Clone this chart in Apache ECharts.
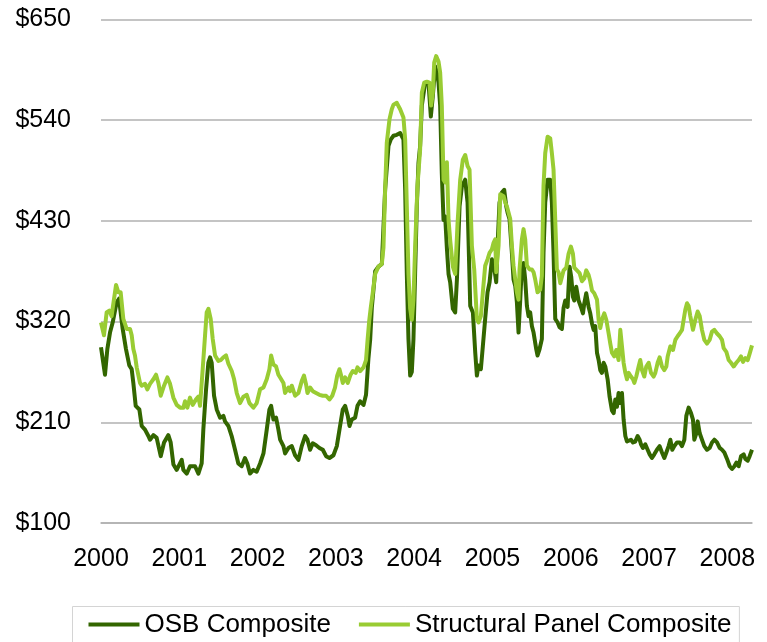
<!DOCTYPE html>
<html>
<head>
<meta charset="utf-8">
<title>OSB and Structural Panel Composite Prices</title>
<script src="https://cdn.jsdelivr.net/npm/echarts@6/dist/echarts.min.js"></script>
<style>
  html, body { margin: 0; padding: 0; background: #ffffff; }
  #chart { width: 767px; height: 642px; }
</style>
</head>
<body>
<div id="chart"></div>
<script>
// Weekly composite prices, $ per MSF, sampled as [decimal year, price]
const seriesNames = ['OSB Composite', 'Structural Panel Composite'];

const osbPrices = [
  [2000.000,292],[2000.051,262],[2000.081,290],[2000.115,308],[2000.149,319],[2000.200,341],[2000.230,345],[2000.277,312],
  [2000.319,290],[2000.362,272],[2000.392,268],[2000.413,253],[2000.443,228],[2000.490,224],[2000.520,206],[2000.562,202],
  [2000.605,195],[2000.626,191],[2000.669,196],[2000.711,193],[2000.763,173],[2000.805,188],[2000.860,196],[2000.890,188],
  [2000.925,164],[2000.967,158],
  [2001.031,169],[2001.052,158],[2001.095,154],[2001.137,162],[2001.201,162],[2001.244,154],[2001.286,165],[2001.307,202],
  [2001.342,246],[2001.371,275],[2001.393,281],[2001.414,275],[2001.444,239],[2001.478,224],[2001.521,215],[2001.563,217],
  [2001.584,211],[2001.627,206],[2001.669,195],[2001.712,180],[2001.754,165],[2001.797,162],[2001.839,171],[2001.869,165],
  [2001.903,154],[2001.946,158],[2001.988,156],
  [2002.032,165],[2002.075,176],[2002.117,202],[2002.151,224],[2002.173,228],[2002.203,213],[2002.236,215],[2002.266,202],
  [2002.288,191],[2002.330,184],[2002.351,176],[2002.394,182],[2002.437,184],[2002.479,174],[2002.522,169],[2002.564,184],
  [2002.607,195],[2002.637,191],[2002.671,180],[2002.705,187],[2002.747,185],[2002.790,182],[2002.833,180],[2002.875,173],
  [2002.918,171],[2002.969,174],
  [2003.012,184],[2003.046,202],[2003.088,224],[2003.118,228],[2003.152,217],[2003.174,206],[2003.203,213],[2003.246,215],
  [2003.276,228],[2003.310,233],[2003.353,229],[2003.385,240],[2003.416,280],[2003.438,300],[2003.459,335],[2003.502,375],
  [2003.544,380],[2003.587,383],[2003.629,464],[2003.672,512],[2003.702,519],[2003.736,523],[2003.778,524],[2003.821,526],
  [2003.863,519],[2003.885,464],[2003.906,372],[2003.927,301],[2003.949,261],[2003.970,265],[2003.991,301],
  [2004.012,372],[2004.034,446],[2004.055,493],[2004.076,512],[2004.098,556],[2004.140,581],[2004.183,581],[2004.213,544],
  [2004.238,566],[2004.268,599],[2004.290,592],[2004.311,581],[2004.332,556],[2004.353,482],[2004.375,431],[2004.396,435],
  [2004.418,400],[2004.439,372],[2004.460,363],[2004.494,334],[2004.524,330],[2004.546,366],[2004.580,446],[2004.610,468],
  [2004.652,475],[2004.682,450],[2004.716,337],[2004.750,330],[2004.780,286],[2004.801,261],[2004.822,272],[2004.852,268],
  [2004.877,293],[2004.907,323],[2004.937,352],[2004.963,363],[2004.993,388],
  [2005.014,384],[2005.048,363],[2005.065,403],[2005.090,450],[2005.120,461],[2005.150,464],[2005.176,446],[2005.193,439],
  [2005.218,432],[2005.248,395],[2005.269,366],[2005.291,359],[2005.312,341],[2005.333,308],[2005.355,344],[2005.376,381],
  [2005.397,384],[2005.418,366],[2005.440,337],[2005.461,326],[2005.482,330],[2005.504,315],[2005.525,308],[2005.559,290],
  [2005.576,283],[2005.602,290],[2005.631,301],[2005.652,395],[2005.674,450],[2005.704,475],[2005.738,475],[2005.759,450],
  [2005.780,395],[2005.802,323],[2005.832,319],[2005.857,314],[2005.887,312],[2005.908,335],[2005.930,343],[2005.960,336],
  [2005.985,380],
  [2006.006,369],[2006.028,347],[2006.045,343],[2006.070,358],[2006.100,343],[2006.130,336],[2006.156,329],[2006.173,340],
  [2006.198,351],[2006.228,336],[2006.249,329],[2006.271,318],[2006.292,311],[2006.313,315],[2006.335,286],[2006.356,278],
  [2006.377,267],[2006.398,264],[2006.420,275],[2006.441,271],[2006.471,257],[2006.496,238],[2006.526,223],[2006.548,220],
  [2006.569,235],[2006.590,227],[2006.611,242],[2006.633,231],[2006.654,242],[2006.675,213],[2006.697,195],[2006.718,189],
  [2006.739,191],[2006.769,191],[2006.795,188],[2006.824,189],[2006.854,195],[2006.880,191],[2006.897,186],[2006.922,182],
  [2006.952,186],[2006.982,180],
  [2007.008,175],[2007.037,171],[2007.067,175],[2007.101,180],[2007.135,184],[2007.165,177],[2007.195,171],[2007.221,177],
  [2007.250,184],[2007.272,191],[2007.297,180],[2007.323,184],[2007.357,188],[2007.391,188],[2007.421,184],[2007.451,191],
  [2007.476,217],[2007.506,226],[2007.536,220],[2007.561,213],[2007.578,191],[2007.604,198],[2007.621,211],[2007.647,198],
  [2007.676,191],[2007.706,184],[2007.740,180],[2007.774,182],[2007.804,188],[2007.834,191],[2007.868,188],[2007.902,182],
  [2007.932,180],[2007.962,177],[2007.996,170],
  [2008.030,162],[2008.060,159],[2008.090,162],[2008.115,166],[2008.145,162],[2008.175,173],[2008.209,175],[2008.230,170],
  [2008.260,168],[2008.285,173],[2008.315,180]
];

const panelPrices = [
  [2000.000,319],[2000.038,305],[2000.072,330],[2000.106,332],[2000.136,326],[2000.150,335],[2000.192,360],[2000.222,352],
  [2000.251,352],[2000.285,323],[2000.307,321],[2000.328,312],[2000.349,310],[2000.371,312],[2000.392,305],[2000.413,290],
  [2000.434,283],[2000.456,270],[2000.477,268],[2000.498,253],[2000.520,250],[2000.562,252],[2000.592,246],[2000.626,252],
  [2000.669,257],[2000.703,262],[2000.733,253],[2000.763,239],[2000.805,250],[2000.848,259],[2000.882,252],[2000.924,237],
  [2000.967,229],
  [2001.010,226],[2001.052,226],[2001.073,233],[2001.103,226],[2001.137,237],[2001.171,229],[2001.214,235],[2001.244,238],
  [2001.265,228],[2001.299,268],[2001.329,305],[2001.350,330],[2001.372,334],[2001.401,323],[2001.427,301],[2001.457,283],
  [2001.499,277],[2001.529,278],[2001.563,281],[2001.597,283],[2001.627,274],[2001.670,266],[2001.700,257],[2001.734,242],
  [2001.776,231],[2001.819,238],[2001.862,240],[2001.896,231],[2001.947,226],[2001.989,231],
  [2002.032,246],[2002.075,248],[2002.117,257],[2002.151,268],[2002.173,283],[2002.203,273],[2002.236,271],[2002.266,262],
  [2002.288,259],[2002.330,253],[2002.351,242],[2002.394,248],[2002.415,244],[2002.437,250],[2002.479,239],[2002.522,242],
  [2002.564,255],[2002.593,261],[2002.620,251],[2002.637,242],[2002.671,248],[2002.705,244],[2002.747,242],[2002.790,240],
  [2002.833,239],[2002.875,239],[2002.918,235],[2002.954,239],[2002.989,248],
  [2003.017,261],[2003.046,268],[2003.067,261],[2003.088,253],[2003.118,259],[2003.152,253],[2003.188,262],[2003.216,266],
  [2003.253,264],[2003.276,270],[2003.310,266],[2003.353,270],[2003.385,278],[2003.405,300],[2003.425,320],[2003.445,335],
  [2003.472,352],[2003.502,372],[2003.544,380],[2003.587,383],[2003.608,401],[2003.629,464],[2003.650,515],[2003.685,541],
  [2003.714,552],[2003.736,557],[2003.778,559],[2003.821,552],[2003.863,543],[2003.885,519],[2003.906,446],[2003.927,372],
  [2003.949,334],[2003.970,322],[2003.991,344],
  [2004.012,401],[2004.042,468],[2004.076,508],[2004.098,570],[2004.128,581],[2004.162,582],[2004.196,581],[2004.217,556],
  [2004.238,570],[2004.256,603],[2004.281,610],[2004.311,604],[2004.332,592],[2004.353,556],[2004.375,475],[2004.396,472],
  [2004.418,494],[2004.439,431],[2004.460,409],[2004.494,380],[2004.524,372],[2004.554,427],[2004.588,475],[2004.622,497],
  [2004.652,502],[2004.682,490],[2004.707,486],[2004.737,403],[2004.767,377],[2004.801,323],[2004.822,319],[2004.852,326],
  [2004.877,352],[2004.907,381],[2004.937,388],[2004.963,395],[2004.993,399],
  [2005.014,406],[2005.035,410],[2005.048,374],[2005.078,403],[2005.099,459],[2005.120,461],[2005.142,457],[2005.163,450],
  [2005.184,446],[2005.206,446],[2005.227,432],[2005.248,403],[2005.269,381],[2005.291,366],[2005.312,352],[2005.333,344],
  [2005.346,377],[2005.376,410],[2005.397,421],[2005.418,410],[2005.440,381],[2005.474,377],[2005.504,377],[2005.525,374],
  [2005.546,366],[2005.576,352],[2005.610,355],[2005.631,370],[2005.652,468],[2005.674,504],[2005.704,522],[2005.738,520],
  [2005.759,504],[2005.780,486],[2005.802,486],[2005.823,377],[2005.844,374],[2005.866,362],[2005.909,376],[2005.943,379],
  [2005.972,394],
  [2006.002,402],[2006.028,394],[2006.045,379],[2006.079,376],[2006.113,373],[2006.143,364],[2006.173,367],[2006.198,376],
  [2006.228,371],[2006.249,364],[2006.271,354],[2006.300,351],[2006.335,344],[2006.356,322],[2006.377,313],[2006.398,322],
  [2006.428,329],[2006.454,322],[2006.484,307],[2006.505,296],[2006.526,286],[2006.556,282],[2006.582,289],[2006.611,278],
  [2006.633,311],[2006.654,293],[2006.675,275],[2006.697,264],[2006.718,257],[2006.739,264],[2006.769,260],[2006.795,257],
  [2006.812,253],[2006.837,260],[2006.867,271],[2006.888,278],[2006.910,267],[2006.939,260],[2006.965,271],[2006.995,275],
  [2007.025,264],[2007.059,260],[2007.080,264],[2007.110,275],[2007.135,281],[2007.165,271],[2007.195,267],[2007.221,271],
  [2007.238,282],[2007.272,293],[2007.306,289],[2007.336,300],[2007.365,304],[2007.391,307],[2007.421,311],[2007.442,322],
  [2007.463,333],[2007.485,340],[2007.506,337],[2007.527,326],[2007.561,311],[2007.591,322],[2007.621,331],[2007.647,326],
  [2007.676,311],[2007.706,300],[2007.740,296],[2007.774,300],[2007.804,309],[2007.834,311],[2007.868,307],[2007.902,304],
  [2007.932,300],[2007.953,291],[2007.987,287],
  [2008.017,278],[2008.047,275],[2008.081,271],[2008.115,275],[2008.145,278],[2008.175,282],[2008.200,276],[2008.230,280],
  [2008.260,278],[2008.285,285],[2008.315,294]
];

// Axis ranges
const yearMin = 2000;
const priceMin = 100, priceMax = 650, priceStep = 110;

const FONT = '"Liberation Sans", Arial, sans-serif';
const GRID_GRAY = '#b0b0b0';
const OSB_GREEN = '#336600';
const PANEL_GREEN = '#99cc33';

const lastYear = Math.max(osbPrices[osbPrices.length - 1][0], panelPrices[panelPrices.length - 1][0]);

const chart = echarts.init(document.getElementById('chart'), null, { renderer: 'canvas' });

chart.setOption({
  animation: false,
  backgroundColor: '#ffffff',
  grid: { left: 101, right: 15, top: 19.5, bottom: 119, containLabel: false },
  xAxis: {
    type: 'value',
    min: yearMin,
    max: lastYear,
    interval: 1,
    axisLine: { show: true, lineStyle: { color: GRID_GRAY, width: 1.5 } },
    axisTick: { show: false },
    splitLine: { show: false },
    axisLabel: {
      color: '#000',
      fontFamily: FONT,
      fontSize: 25,
      margin: 24,
      showMaxLabel: false,
      formatter: v => (Number.isInteger(v) ? String(v) : '')
    }
  },
  yAxis: {
    type: 'value',
    min: priceMin,
    max: priceMax,
    interval: priceStep,
    axisLine: { show: false },
    axisTick: { show: false },
    splitLine: { show: true, lineStyle: { color: GRID_GRAY, width: 1.5 } },
    axisLabel: {
      color: '#000',
      fontFamily: FONT,
      fontSize: 25,
      margin: 30,
      formatter: '${value}'
    }
  },
  legend: {
    data: seriesNames,
    left: 72.5,
    top: 606.5,
    orient: 'horizontal',
    icon: 'rect',
    itemWidth: 51,
    itemHeight: 4,
    itemGap: 28,
    padding: [5, 8, 40, 16],
    borderColor: '#d4d4d4',
    borderWidth: 1,
    textStyle: { color: '#000', fontFamily: FONT, fontSize: 26 }
  },
  series: [
    {
      name: seriesNames[0],
      type: 'line',
      data: osbPrices,
      showSymbol: false,
      symbol: 'none',
      color: OSB_GREEN,
      lineStyle: { color: OSB_GREEN, width: 4, join: 'round' },
      z: 2
    },
    {
      name: seriesNames[1],
      type: 'line',
      data: panelPrices,
      showSymbol: false,
      symbol: 'none',
      color: PANEL_GREEN,
      lineStyle: { color: PANEL_GREEN, width: 4, join: 'round' },
      z: 3
    }
  ]
});
</script>
</body>
</html>
